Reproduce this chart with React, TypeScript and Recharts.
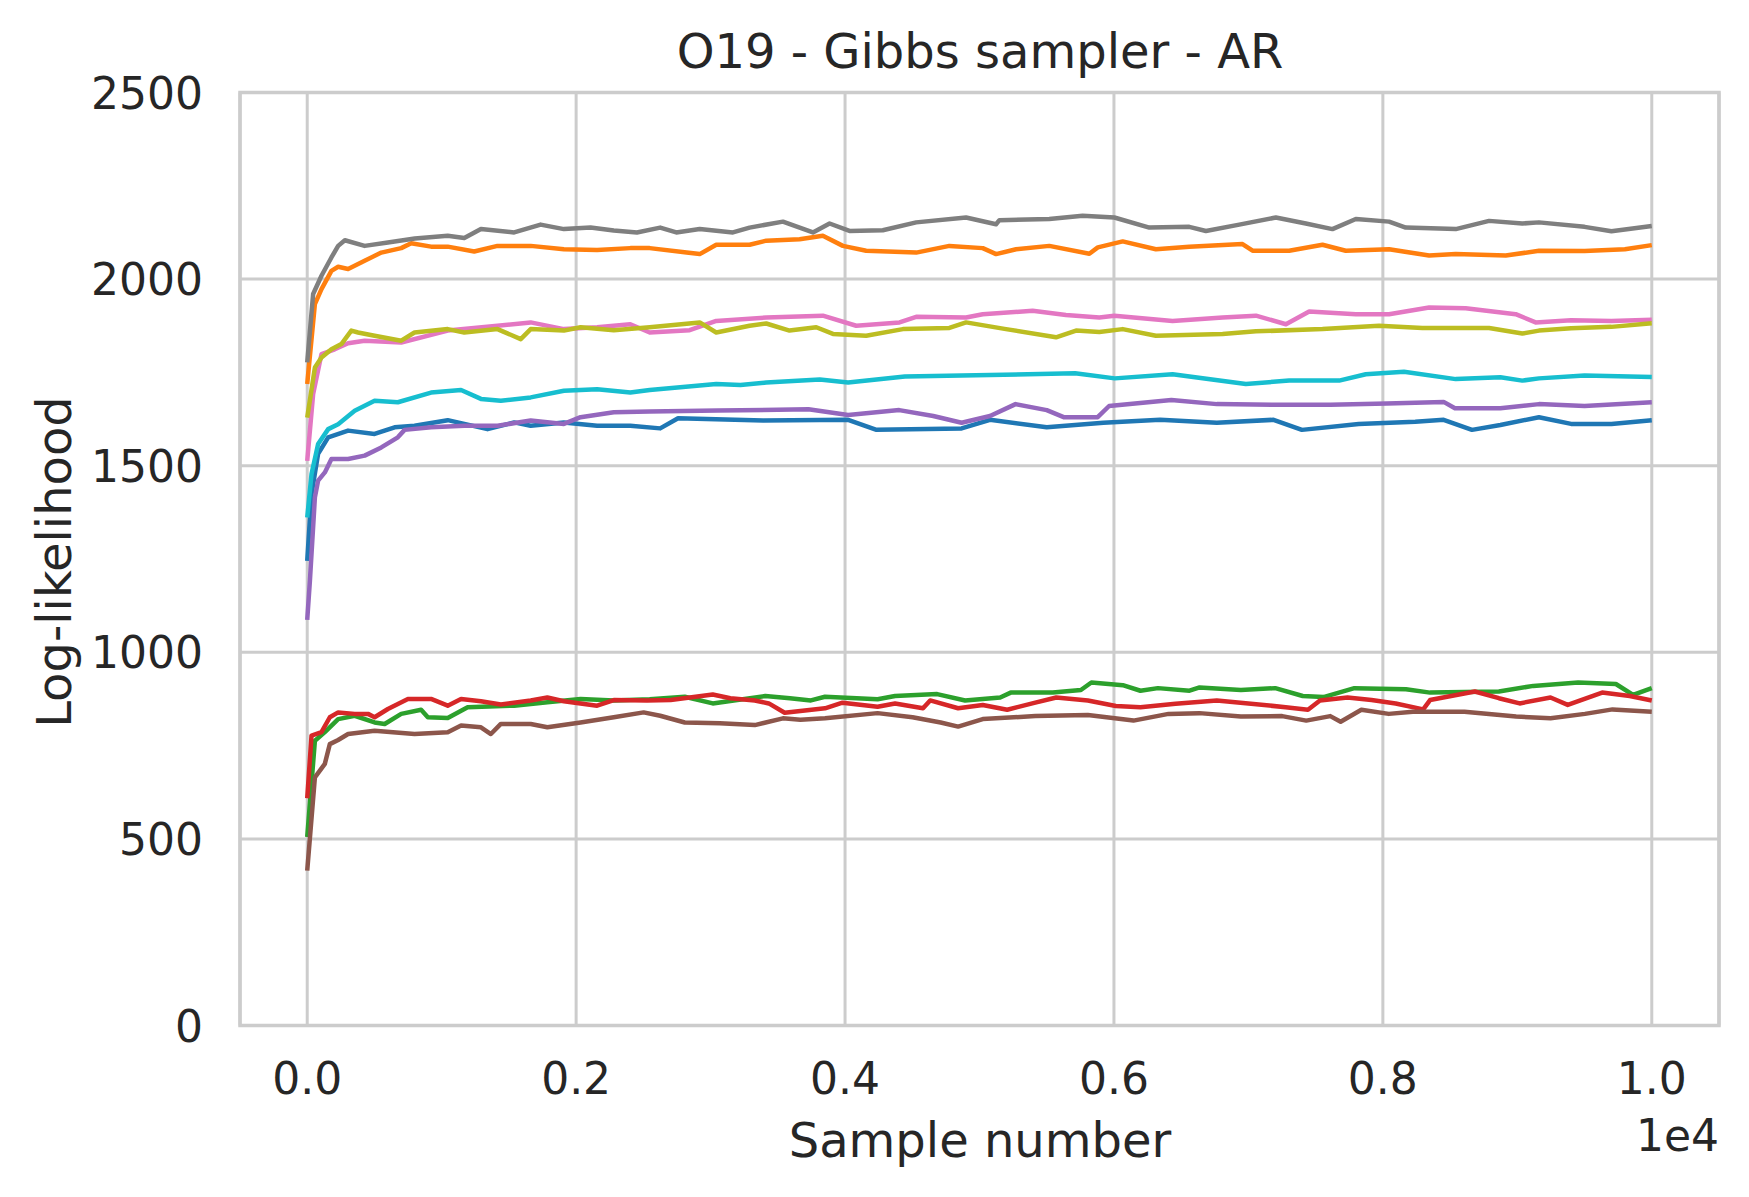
import React from 'react';
import { LineChart, Line, XAxis, YAxis, CartesianGrid, ReferenceArea } from 'recharts';

const FONT = '"DejaVu Sans", sans-serif';
const INK = '#262626';
const GRID = '#cccccc';

const xTicks = [0, 2000, 4000, 6000, 8000, 10000];
const yTicks = [0, 500, 1000, 1500, 2000, 2500];

// [sample, log-likelihood] per chain
const blue = [[0, 1245], [32, 1424], [81, 1532], [156, 1576], [304, 1594], [501, 1585], [650, 1603], [798, 1607], [1045, 1622], [1341, 1598], [1539, 1616], [1662, 1607], [1909, 1616], [2156, 1607], [2403, 1607], [2625, 1600], [2758, 1627], [3391, 1621], [4023, 1623], [4234, 1596], [4867, 1600], [5078, 1623], [5500, 1603], [5921, 1615], [6343, 1623], [6765, 1615], [7187, 1623], [7398, 1596], [7820, 1612], [8241, 1618], [8452, 1623], [8663, 1596], [8874, 1609], [9161, 1630], [9400, 1612], [9700, 1612], [10000, 1622]];
const orange = [[0, 1719], [57, 1933], [106, 1973], [180, 2022], [230, 2033], [304, 2027], [427, 2049], [551, 2071], [699, 2083], [773, 2096], [921, 2087], [1045, 2087], [1242, 2074], [1415, 2089], [1662, 2089], [1909, 2080], [2156, 2078], [2403, 2083], [2547, 2083], [2919, 2067], [3042, 2092], [3290, 2092], [3414, 2103], [3662, 2107], [3835, 2116], [3984, 2089], [4157, 2076], [4529, 2071], [4776, 2089], [5024, 2083], [5123, 2067], [5272, 2080], [5519, 2089], [5817, 2068], [5880, 2085], [6065, 2101], [6312, 2080], [6560, 2087], [6956, 2094], [7031, 2076], [7303, 2076], [7551, 2092], [7724, 2076], [8046, 2080], [8344, 2063], [8542, 2067], [8914, 2063], [9161, 2076], [9500, 2075], [9800, 2080], [10000, 2091]];
const green = [[0, 505], [57, 763], [131, 786], [230, 821], [353, 830], [501, 812], [576, 808], [699, 835], [847, 846], [897, 826], [1045, 824], [1193, 853], [1539, 857], [1786, 866], [2033, 875], [2280, 871], [2547, 874], [2808, 881], [3016, 863], [3199, 872], [3407, 883], [3590, 877], [3746, 871], [3851, 881], [4242, 874], [4372, 883], [4685, 888], [4893, 871], [5154, 879], [5232, 892], [5545, 892], [5754, 899], [5832, 919], [6066, 912], [6197, 897], [6327, 904], [6562, 897], [6637, 906], [6944, 899], [7200, 904], [7404, 883], [7558, 880], [7788, 904], [8172, 901], [8351, 892], [8863, 895], [9119, 910], [9452, 919], [9733, 915], [9861, 886], [10000, 904]];
const red = [[0, 609], [32, 777], [106, 786], [168, 826], [230, 839], [353, 835], [452, 835], [501, 826], [600, 848], [749, 875], [921, 875], [1045, 857], [1144, 875], [1292, 869], [1440, 860], [1662, 871], [1786, 879], [1909, 869], [2156, 857], [2280, 872], [2526, 871], [2703, 872], [3016, 887], [3147, 877], [3329, 871], [3433, 863], [3551, 838], [3851, 850], [3981, 865], [4242, 854], [4372, 863], [4580, 850], [4633, 871], [4841, 850], [5024, 859], [5206, 846], [5415, 865], [5571, 879], [5806, 871], [6014, 856], [6197, 853], [6458, 862], [6765, 871], [7277, 853], [7443, 846], [7532, 871], [7737, 879], [7916, 872], [8095, 863], [8300, 847], [8351, 872], [8684, 895], [8863, 877], [9017, 863], [9247, 879], [9375, 859], [9631, 892], [9836, 883], [10000, 871]];
const purple = [[0, 1087], [20, 1192], [57, 1415], [81, 1460], [131, 1482], [180, 1518], [304, 1518], [427, 1527], [551, 1549], [674, 1576], [724, 1596], [921, 1603], [1168, 1607], [1415, 1607], [1662, 1621], [1909, 1612], [2033, 1630], [2280, 1643], [2547, 1645], [3053, 1648], [3728, 1651], [4023, 1636], [4403, 1649], [4656, 1633], [4867, 1615], [5078, 1633], [5268, 1665], [5500, 1649], [5626, 1630], [5879, 1630], [5964, 1660], [6427, 1676], [6765, 1665], [7187, 1663], [7609, 1663], [8030, 1667], [8452, 1671], [8536, 1654], [8874, 1654], [9161, 1665], [9500, 1660], [10000, 1670]];
const brown = [[0, 415], [57, 665], [131, 701], [168, 754], [230, 765], [304, 781], [501, 790], [798, 781], [1045, 786], [1144, 804], [1292, 799], [1366, 781], [1440, 808], [1662, 808], [1786, 799], [2033, 812], [2280, 826], [2502, 839], [2625, 830], [2808, 812], [3068, 810], [3329, 805], [3538, 823], [3668, 819], [3851, 823], [4242, 837], [4502, 826], [4711, 812], [4841, 801], [5024, 821], [5415, 829], [5806, 832], [6145, 817], [6406, 835], [6635, 837], [6944, 828], [7251, 829], [7430, 817], [7609, 829], [7686, 814], [7840, 846], [8044, 835], [8223, 841], [8607, 841], [8991, 828], [9247, 823], [9503, 835], [9708, 847], [10000, 841]];
const pink = [[0, 1513], [44, 1692], [106, 1799], [205, 1812], [304, 1828], [427, 1835], [699, 1830], [1045, 1862], [1415, 1875], [1662, 1884], [1909, 1866], [2156, 1871], [2403, 1879], [2547, 1857], [2844, 1863], [3042, 1888], [3414, 1897], [3835, 1902], [4083, 1875], [4405, 1884], [4529, 1899], [4900, 1897], [5024, 1906], [5395, 1915], [5643, 1904], [5891, 1897], [6003, 1902], [6436, 1888], [6808, 1897], [7056, 1902], [7279, 1879], [7452, 1913], [7799, 1906], [8046, 1906], [8344, 1924], [8616, 1922], [8988, 1906], [9136, 1884], [9400, 1890], [9700, 1888], [10000, 1891]];
const gray = [[0, 1777], [44, 1960], [106, 2009], [180, 2058], [230, 2089], [280, 2104], [427, 2089], [600, 2098], [800, 2109], [1045, 2116], [1168, 2110], [1292, 2134], [1539, 2125], [1736, 2146], [1909, 2134], [2107, 2138], [2280, 2130], [2452, 2125], [2625, 2138], [2745, 2125], [2919, 2134], [3166, 2125], [3290, 2138], [3538, 2154], [3761, 2125], [3885, 2149], [4033, 2129], [4281, 2131], [4529, 2152], [4900, 2165], [5123, 2147], [5148, 2158], [5519, 2161], [5767, 2170], [6003, 2165], [6263, 2138], [6560, 2140], [6684, 2129], [6932, 2146], [7204, 2165], [7427, 2149], [7625, 2134], [7799, 2161], [8046, 2154], [8170, 2138], [8542, 2134], [8790, 2156], [9037, 2149], [9161, 2152], [9500, 2140], [9700, 2128], [10000, 2142]];
const olive = [[0, 1629], [57, 1763], [106, 1790], [180, 1812], [254, 1826], [328, 1862], [378, 1857], [501, 1848], [699, 1835], [798, 1857], [1045, 1866], [1168, 1857], [1415, 1866], [1588, 1839], [1662, 1866], [1909, 1862], [2033, 1871], [2280, 1863], [2547, 1871], [2919, 1884], [3042, 1857], [3290, 1875], [3414, 1881], [3587, 1862], [3786, 1871], [3910, 1853], [4157, 1848], [4430, 1866], [4776, 1869], [4900, 1884], [5197, 1866], [5569, 1844], [5718, 1862], [5891, 1858], [6065, 1866], [6312, 1848], [6808, 1853], [7056, 1860], [7551, 1866], [7972, 1875], [8294, 1869], [8790, 1869], [9037, 1854], [9161, 1862], [9400, 1868], [9700, 1872], [10000, 1882]];
const cyan = [[0, 1361], [32, 1478], [81, 1558], [156, 1598], [230, 1611], [353, 1647], [501, 1674], [674, 1670], [921, 1696], [1144, 1703], [1292, 1679], [1440, 1674], [1662, 1683], [1909, 1701], [2156, 1705], [2403, 1696], [2547, 1703], [3042, 1719], [3222, 1716], [3414, 1723], [3812, 1731], [4023, 1723], [4445, 1739], [5078, 1743], [5711, 1748], [6006, 1734], [6436, 1745], [6981, 1719], [7303, 1728], [7675, 1728], [7873, 1745], [8157, 1752], [8542, 1732], [8874, 1737], [9037, 1728], [9161, 1734], [9500, 1742], [10000, 1738]];

const chains = [
    { color: '#1f77b4', points: blue },
    { color: '#ff7f0e', points: orange },
    { color: '#2ca02c', points: green },
    { color: '#d62728', points: red },
    { color: '#9467bd', points: purple },
    { color: '#8c564b', points: brown },
    { color: '#e377c2', points: pink },
    { color: '#7f7f7f', points: gray },
    { color: '#bcbd22', points: olive },
    { color: '#17becf', points: cyan },
];

const XTick = ({ x, y, payload }: any) => (
    <text x={x} y={y + 68.5} textAnchor="middle" fontSize={44} fontFamily={FONT} fill={INK}>
        {(payload.value / 10000).toFixed(1)}
    </text>
);

const YTick = ({ x, y, payload }: any) => (
    <text x={x - 37} y={y + 16} textAnchor="end" fontSize={44} fontFamily={FONT} fill={INK}>
        {payload.value}
    </text>
);

export default function App() {
    return <div style={{ position: 'absolute', left: 0, top: 0, width: 1749, height: 1197, background: '#fff' }}>
        <LineChart
            width={1749}
            height={1197}
            margin={{ top: 92.5, right: 30, bottom: 0, left: 0 }}
        >
            <CartesianGrid stroke={GRID} strokeWidth={3} />
            <XAxis
                dataKey="x"
                type="number"
                domain={[-500, 10500]}
                ticks={xTicks}
                allowDataOverflow
                height={171.5}
                axisLine={false}
                tickLine={false}
                tickSize={0}
                tickMargin={0}
                tick={<XTick />}
            />
            <YAxis
                type="number"
                domain={[0, 2500]}
                ticks={yTicks}
                allowDataOverflow
                width={240}
                axisLine={false}
                tickLine={false}
                tickSize={0}
                tickMargin={0}
                tick={<YTick />}
            />
            {chains.map((c, i) => (
                <Line
                    key={i}
                    data={c.points.map(([x, v]) => ({ x, v }))}
                    dataKey="v"
                    type="linear"
                    stroke={c.color}
                    strokeWidth={4.5}
                    strokeLinejoin="round"
                    dot={false}
                    activeDot={false}
                    isAnimationActive={false}
                />
            ))}
            <ReferenceArea x1={-500} x2={10500} y1={0} y2={2500} fill="none" stroke={GRID} strokeWidth={3.5} />
        </LineChart>
        <svg width={1749} height={1197} style={{ position: 'absolute', left: 0, top: 0, pointerEvents: 'none' }}>
            <text x={980} y={68} textAnchor="middle" fontSize={48} fontFamily={FONT} fill={INK}>O19 - Gibbs sampler - AR</text>
            <text x={980} y={1157} textAnchor="middle" fontSize={48} fontFamily={FONT} fill={INK}>Sample number</text>
            <text x={1719} y={1151} textAnchor="end" fontSize={44} fontFamily={FONT} fill={INK}>1e4</text>
            <text x={71} y={562} transform="rotate(-90, 71, 562)" textAnchor="middle" fontSize={48} fontFamily={FONT} fill={INK}>Log-likelihood</text>
        </svg>
    </div>
}
